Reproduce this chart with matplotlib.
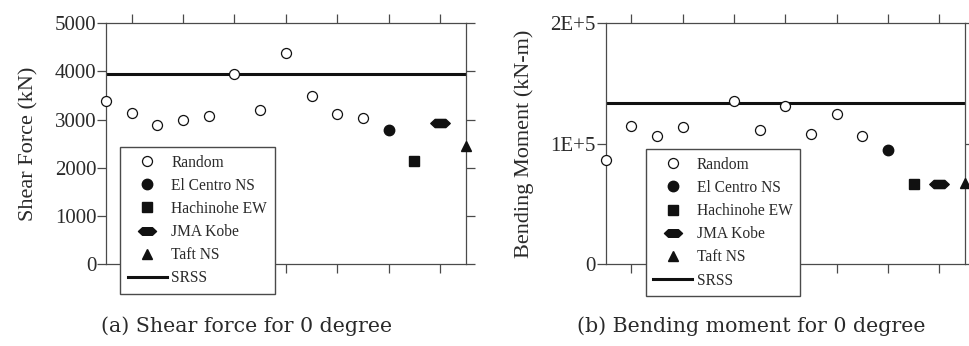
import numpy as np
import matplotlib
matplotlib.use("Agg")
import matplotlib.pyplot as plt
from matplotlib.path import Path
from matplotlib.lines import Line2D

# ---------------- data ----------------
# (a) shear force (kN)
shear_random_x = [0, 1, 2, 3, 4, 5, 6, 7, 8, 9, 10]
shear_random = [3390, 3140, 2890, 2990, 3075, 3950, 3200, 4385, 3500, 3120, 3030]
shear_elcentro = 2790
shear_hachinohe = 2130
shear_kobe = 2935
shear_taft = 2460
shear_srss = 3950
shear_quake_x = [11, 12, 13, 14]
shear_yticks = [0, 1000, 2000, 3000, 4000, 5000]
shear_yticklabels = ["0", "1000", "2000", "3000", "4000", "5000"]

# (b) bending moment (kN-m)
moment_random_x = [0, 1, 2, 3, 5, 6, 7, 8, 9, 10]
moment_random = [86700, 114700, 106400, 113800, 135500, 111100, 131600, 108300, 124400, 106400]
moment_elcentro = 94700
moment_hachinohe = 66500
moment_kobe = 66500
moment_taft = 67600
moment_srss = 133800
moment_quake_x = [11, 12, 13, 14]
moment_yticks = [0, 100000, 200000]
moment_yticklabels = ["0", "1E+5", "2E+5"]

legend_labels = ["Random", "El Centro NS", "Hachinohe EW", "JMA Kobe", "Taft NS", "SRSS"]
captions = ["(a) Shear force for 0 degree", "(b) Bending moment for 0 degree"]
ylabels = ["Shear Force (kN)", "Bending Moment (kN-m)"]

# ---------------- style ----------------
plt.rcParams['font.family'] = ['Liberation Serif', 'DejaVu Serif']
spine_col = "#4a4a4a"
text_col = "#2a2a2a"

hexv = [(-1, 0), (-0.55, 0.42), (0.55, 0.42), (1, 0), (0.55, -0.42), (-0.55, -0.42), (-1, 0)]
hexcodes = [Path.MOVETO] + [Path.LINETO] * 5 + [Path.CLOSEPOLY]
flat_hex = Path(hexv, hexcodes)

fig = plt.figure(figsize=(9.69, 3.46), dpi=100)
axA = fig.add_axes([0.1094, 0.237, 0.3712, 0.6956])
axB = fig.add_axes([0.6251, 0.237, 0.3708, 0.6956])

def draw(ax, rx, rvals, quake_x, ec, hach, kobe, taft, srss, yticks, yticklabels, ymax,
         ylabel, caption, legpos, caption_x):
    ax.set_xlim(0, 14)
    ax.set_ylim(0, ymax)
    ax.axhline(srss, color="#111111", lw=2.2, zorder=2)
    kw = dict(clip_on=False, zorder=3, linestyle="none")
    ax.plot(rx, rvals, marker="o", ms=7.2, mfc="white", mec="#111111", mew=0.9, **kw)
    ax.plot([quake_x[0]], [ec], marker="o", ms=7.5, mfc="#111111", mec="#111111", **kw)
    ax.plot([quake_x[1]], [hach], marker="s", ms=7.5, mfc="#111111", mec="#111111", **kw)
    ax.plot([quake_x[2]], [kobe], marker=flat_hex, ms=14, mfc="#111111", mec="#111111", **kw)
    ax.plot([quake_x[3]], [taft], marker="^", ms=6.5, mfc="#111111", mec="#111111", **kw)

    ax.set_xticks([1, 3, 5, 7, 9, 11, 13])
    ax.set_yticks(yticks)
    ax.set_yticklabels(yticklabels)
    ax.tick_params(axis="x", which="both", direction="out", top=True, bottom=True,
                   labelbottom=False, length=6.5, width=0.9, color=spine_col)
    ax.tick_params(axis="y", which="both", direction="out", left=True, right=True,
                   length=6.5, width=0.9, color=spine_col, labelsize=15, labelcolor=text_col, pad=0.5)
    for s in ax.spines.values():
        s.set_color(spine_col)
        s.set_linewidth(0.9)
    ax.set_ylabel(ylabel, fontsize=16, color=text_col, labelpad=12)

    handles = [
        Line2D([], [], ls="none", marker="o", ms=7.2, mfc="white", mec="#111111", mew=0.9),
        Line2D([], [], ls="none", marker="o", ms=7.5, mfc="#111111", mec="#111111"),
        Line2D([], [], ls="none", marker="s", ms=7.5, mfc="#111111", mec="#111111"),
        Line2D([], [], ls="none", marker=flat_hex, ms=13, mfc="#111111", mec="#111111"),
        Line2D([], [], ls="none", marker="^", ms=6.5, mfc="#111111", mec="#111111"),
        Line2D([], [], color="#111111", lw=2.2),
    ]
    leg = ax.legend(handles, legend_labels, loc="upper left", bbox_to_anchor=legpos,
                    frameon=True, fancybox=False, edgecolor=spine_col, framealpha=1,
                    prop={'size': 11.2}, handlelength=2.5, handletextpad=0.3,
                    labelspacing=0.46, borderpad=0.5, borderaxespad=0)
    leg.get_frame().set_linewidth(1.0)
    leg.set_zorder(10)
    for t in leg.get_texts():
        t.set_color(text_col)
    fig.text(caption_x, 0.056, caption, fontsize=14.8, color=text_col, ha="center",
             va="center", family=['DejaVu Serif'])

draw(axA, shear_random_x, shear_random, shear_quake_x, shear_elcentro, shear_hachinohe,
     shear_kobe, shear_taft, shear_srss, shear_yticks, shear_yticklabels, 5000,
     ylabels[0], captions[0], (0.039, 0.487), 0.254)
draw(axB, moment_random_x, moment_random, moment_quake_x, moment_elcentro, moment_hachinohe,
     moment_kobe, moment_taft, moment_srss, moment_yticks, moment_yticklabels, 200000,
     ylabels[1], captions[1], (0.111, 0.478), 0.775)

fig.savefig("out.png", dpi=100)
